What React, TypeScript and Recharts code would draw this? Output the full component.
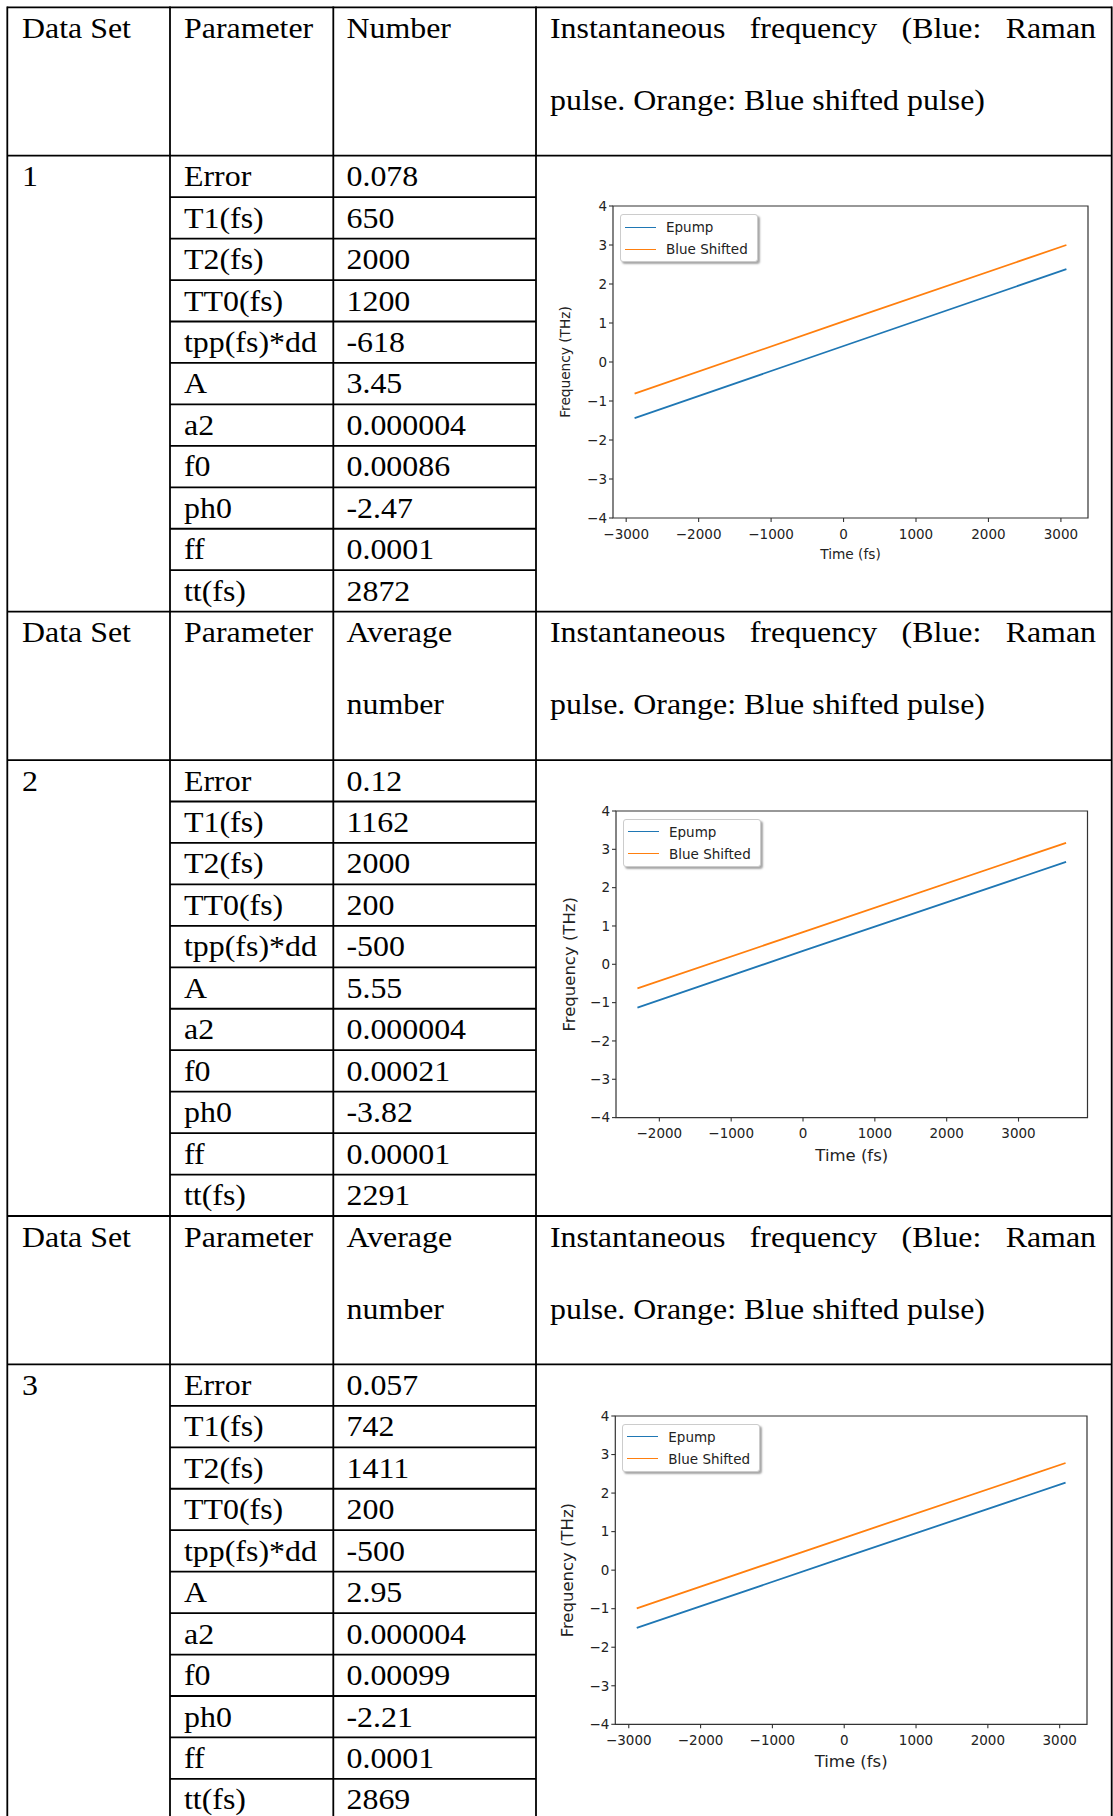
import React from "react";
import { LineChart, Line, XAxis, YAxis, Legend, ReferenceArea, Label } from "recharts";

// table contents
const parameters = ["Error", "T1(fs)", "T2(fs)", "TT0(fs)", "tpp(fs)*dd", "A", "a2", "f0", "ph0", "ff", "tt(fs)"];
const numbers1 = ["0.078", "650", "2000", "1200", "-618", "3.45", "0.000004", "0.00086", "-2.47", "0.0001", "2872"];
const numbers2 = ["0.12", "1162", "2000", "200", "-500", "5.55", "0.000004", "0.00021", "-3.82", "0.00001", "2291"];
const numbers3 = ["0.057", "742", "1411", "200", "-500", "2.95", "0.000004", "0.00099", "-2.21", "0.0001", "2869"];
const headerFirst = ["Data Set", "Parameter", "Number"];
const headerOther = ["Data Set", "Parameter", "Average", "number"];
const plotTitle = "Instantaneous frequency (Blue: Raman pulse. Orange: Blue shifted pulse)";

// chart values
const time1 = [-2884, 0, 3076];
const epump1 = [-1.44, 0.41, 2.38];
const shifted1 = [-0.81, 1.04, 3.0];

const time2 = [-2305, 0, 3662];
const epump2 = [-1.13, 0.35, 2.67];
const shifted2 = [-0.63, 0.84, 3.17];

const time3 = [-2889, 0, 3082];
const epump3 = [-1.5, 0.33, 2.27];
const shifted3 = [-0.99, 0.84, 2.78];

const freqTicks = [-4, -3, -2, -1, 0, 1, 2, 3, 4];
const timeTicksA = [-3000, -2000, -1000, 0, 1000, 2000, 3000];
const timeTicksB = [-2000, -1000, 0, 1000, 2000, 3000];
const legendOrder = ["epump", "shifted"];

const colX = [7.3, 170, 333.3, 536, 1111.7];
const textX = [22, 184, 346.5];
const headerH = 148.4;
const rowH = 41.45;
const blockH = headerH + rowH * 11;
const blockTop = [7.3, 7.3 + blockH, 7.3 + 2 * blockH];
const serif = "'Liberation Serif', 'Times New Roman', serif";
const sans = "'DejaVu Sans', sans-serif";

const minus = (v: number) => (v < 0 ? `\u2212${Math.abs(v)}` : `${v}`);

function LegendBox(props: any) {
  const payload = [...(props.payload || [])].sort(
    (a: any, b: any) => legendOrder.indexOf(a.dataKey) - legendOrder.indexOf(b.dataKey)
  );
  return (
    <div
      style={{
        width: 138,
        boxSizing: "border-box",
        background: "#fff",
        border: "1px solid #ccc",
        borderRadius: 3,
        boxShadow: "2px 2px 2px rgba(0,0,0,0.35)",
        padding: "1px 0",
        fontFamily: sans,
        fontSize: 13.5,
        color: "#222",
      }}
    >
      {payload.map((p: any) => (
        <div key={p.value} style={{ display: "flex", alignItems: "center", height: 22 }}>
          <span style={{ width: 31, marginLeft: 4, marginRight: 10, borderTop: `1.8px solid ${p.color}` }} />
          <span>{p.value}</span>
        </div>
      ))}
    </div>
  );
}

type ChartProps = {
  time: number[];
  epump: number[];
  shifted: number[];
  ticks: number[];
  plotLeft: number;
  plotRight: number;
  plotTop: number;
  plotBottom: number;
  labelSize: number;
  yLabelX: number;
  xLabelOffset: number;
};

function FreqChart(p: ChartProps) {
  const data = p.time.map((t, i) => ({ t, epump: p.epump[i], shifted: p.shifted[i] }));
  const pad = 0.05 * (p.time[p.time.length - 1] - p.time[0]);
  const domain = [p.time[0] - pad, p.time[p.time.length - 1] + pad];
  const left = 540;
  const width = 573;
  const height = p.plotBottom - p.plotTop + 16 + 62;
  const tickStyle = { fill: "#222", fontSize: 13.5, fontFamily: sans };
  return (
    <div style={{ position: "absolute", left, top: p.plotTop - 16 }}>
      <LineChart
        width={width}
        height={height}
        data={data}
        margin={{ top: 16, right: left + width - p.plotRight, bottom: 0, left: 0 }}
      >
        <XAxis
          type="number"
          dataKey="t"
          domain={domain}
          ticks={p.ticks}
          interval={0}
          allowDataOverflow
          height={62}
          axisLine={false}
          tickLine={{ stroke: "#333", strokeWidth: 1.1 }}
          tickSize={4}
          tickMargin={7}
          tickFormatter={minus}
          tick={tickStyle}
        >
          <Label
            value="Time (fs)"
            position="insideBottom"
            offset={p.xLabelOffset}
            style={{ fontSize: p.labelSize, fill: "#222", fontFamily: sans }}
          />
        </XAxis>
        <YAxis
          type="number"
          domain={[-4, 4]}
          ticks={freqTicks}
          interval={0}
          allowDataOverflow
          width={p.plotLeft - left}
          axisLine={false}
          tickLine={{ stroke: "#333", strokeWidth: 1.1 }}
          tickSize={4}
          tickMargin={2}
          tickFormatter={minus}
          tick={tickStyle}
        >
          <Label
            value="Frequency (THz)"
            angle={-90}
            position="insideLeft"
            offset={p.yLabelX - left}
            style={{ fontSize: p.labelSize, fill: "#222", fontFamily: sans, textAnchor: "middle" }}
          />
        </YAxis>
        <ReferenceArea
          x1={domain[0]}
          x2={domain[1]}
          y1={-4}
          y2={4}
          fill="none"
          stroke="#333"
          strokeWidth={1.2}
          ifOverflow="visible"
        />
        <Legend
          layout="vertical"
          align="center"
          verticalAlign="middle"
          wrapperStyle={{ left: p.plotLeft - left + 7, top: 16 + 8, width: 140 }}
          content={LegendBox}
        />
        <Line type="linear" dataKey="epump" name="Epump" stroke="#1f77b4" strokeWidth={1.8} dot={false} isAnimationActive={false} />
        <Line type="linear" dataKey="shifted" name="Blue Shifted" stroke="#ff7f0e" strokeWidth={1.8} dot={false} isAnimationActive={false} />
      </LineChart>
    </div>
  );
}

function Cell({ x, y, children }: { x: number; y: number; children: React.ReactNode }) {
  return (
    <text transform={`translate(${x},${y}) scale(1.1,1)`} fontFamily={serif} fontSize={29} fill="#000">
      {children}
    </text>
  );
}

function Block({ top, header, setNo, values }: { top: number; header: string[]; setNo: string; values: string[] }) {
  const dataTop = top + headerH;
  return (
    <g>
      <line x1={colX[0]} x2={colX[4]} y1={top} y2={top} stroke="#000" strokeWidth={1.8} />
      <line x1={colX[0]} x2={colX[4]} y1={dataTop} y2={dataTop} stroke="#000" strokeWidth={1.8} />
      {parameters.slice(1).map((_, i) => (
        <line
          key={i}
          x1={colX[1]}
          x2={colX[3]}
          y1={dataTop + rowH * (i + 1)}
          y2={dataTop + rowH * (i + 1)}
          stroke="#000"
          strokeWidth={1.8}
        />
      ))}
      <Cell x={textX[0]} y={top + 30.5}>{header[0]}</Cell>
      <Cell x={textX[1]} y={top + 30.5}>{header[1]}</Cell>
      <Cell x={textX[2]} y={top + 30.5}>{header[2]}</Cell>
      {header[3] && <Cell x={textX[2]} y={top + 30.5 + 72}>{header[3]}</Cell>}
      <Cell x={textX[0]} y={dataTop + 30.5}>{setNo}</Cell>
      {parameters.map((name, i) => (
        <Cell key={name} x={textX[1]} y={dataTop + rowH * i + 30.5}>{name}</Cell>
      ))}
      {values.map((v, i) => (
        <Cell key={i} x={textX[2]} y={dataTop + rowH * i + 30.5}>{v}</Cell>
      ))}
    </g>
  );
}

export default function App() {
  return (
    <div style={{ position: "absolute", left: 0, top: 0, width: 1113, height: 1816, overflow: "hidden", background: "#fff" }}>
      <svg width={1113} height={1816} style={{ position: "absolute", left: 0, top: 0 }}>
        {colX.map((x) => (
          <line key={x} x1={x} x2={x} y1={6.4} y2={1816} stroke="#000" strokeWidth={1.8} />
        ))}
        <Block top={blockTop[0]} header={headerFirst} setNo="1" values={numbers1} />
        <Block top={blockTop[1]} header={headerOther} setNo="2" values={numbers2} />
        <Block top={blockTop[2]} header={headerOther} setNo="3" values={numbers3} />
      </svg>
      {blockTop.map((t) => (
        <div
          key={t}
          style={{
            position: "absolute",
            left: 550,
            top: t - 15.3,
            width: 496.4,
            transform: "scaleX(1.1)",
            transformOrigin: "0 0",
            fontFamily: serif,
            fontSize: 29,
            lineHeight: "72px",
            textAlign: "justify",
            color: "#000",
          }}
        >
          {plotTitle}
        </div>
      ))}
      <FreqChart
        time={time1}
        epump={epump1}
        shifted={shifted1}
        ticks={timeTicksA}
        plotLeft={613}
        plotRight={1088}
        plotTop={206}
        plotBottom={518}
        labelSize={13.7}
        yLabelX={565.6}
        xLabelOffset={20.8}
      />
      <FreqChart
        time={time2}
        epump={epump2}
        shifted={shifted2}
        ticks={timeTicksB}
        plotLeft={616}
        plotRight={1087.5}
        plotTop={810.7}
        plotBottom={1117.3}
        labelSize={16.5}
        yLabelX={569}
        xLabelOffset={18.5}
      />
      <FreqChart
        time={time3}
        epump={epump3}
        shifted={shifted3}
        ticks={timeTicksA}
        plotLeft={615.3}
        plotRight={1087}
        plotTop={1415.7}
        plotBottom={1724}
        labelSize={16.5}
        yLabelX={567.4}
        xLabelOffset={19.2}
      />
    </div>
  );
}
